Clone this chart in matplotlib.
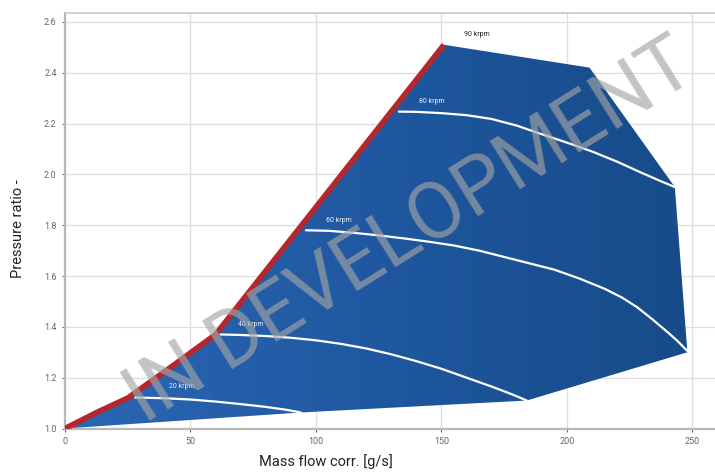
import matplotlib
matplotlib.use("Agg")
import matplotlib.pyplot as plt
import numpy as np
from matplotlib.patches import Polygon
from matplotlib.colors import LinearSegmentedColormap

# surge line (red), left edge of the map
surge_x = [0, 13, 25, 42, 60, 151]
surge_y = [1.0, 1.065, 1.12, 1.24, 1.37, 2.51]

# upper / right edge (90 krpm + choke side)
choke_x = [151, 209, 243, 248]
choke_y = [2.51, 2.42, 1.95, 1.30]

# lower edge, going back to the origin
low_x = [248, 184, 94, 0]
low_y = [1.30, 1.11, 1.063, 1.0]

# speed lines
n20_x = [28, 40, 50, 60, 70, 80, 88, 94]
n20_y = [1.122, 1.119, 1.114, 1.106, 1.096, 1.085, 1.074, 1.063]
n40_x = [62, 70, 80, 90, 100, 110, 120, 130, 140, 150, 160, 170, 178, 184]
n40_y = [1.37, 1.368, 1.364, 1.357, 1.347, 1.333, 1.315, 1.292, 1.265, 1.235, 1.2, 1.165, 1.135, 1.11]
n60_x = [96, 105, 115, 125, 135, 145, 155, 165, 175, 185, 195, 205, 215, 222, 228, 234, 240, 244, 248]
n60_y = [1.78, 1.778, 1.77, 1.76, 1.748, 1.735, 1.72, 1.70, 1.675, 1.65, 1.625, 1.59, 1.55, 1.515,
         1.477, 1.43, 1.38, 1.345, 1.305]
n80_x = [133, 140, 150, 160, 170, 180, 190, 200, 210, 220, 230, 237, 243]
n80_y = [2.247, 2.246, 2.241, 2.233, 2.218, 2.192, 2.158, 2.125, 2.09, 2.05, 2.005, 1.975, 1.95]

label_text = ["20 krpm", "40 krpm", "60 krpm", "80 krpm", "90 krpm"]
label_x = [46.5, 74, 109, 146, 164]
label_y = [1.166, 1.41, 1.82, 2.285, 2.55]

x_ticks = [0, 50, 100, 150, 200, 250]
y_ticks = [1.0, 1.2, 1.4, 1.6, 1.8, 2.0, 2.2, 2.4, 2.6]

plt.rcParams['font.family'] = ['Roboto', 'DejaVu Sans']

fig = plt.figure(figsize=(7.15, 4.75), dpi=100)
ax = fig.add_axes([65 / 715, 1 - 428.5 / 475, 1 - 65 / 715, (428.5 - 13) / 475])
ax.set_xlim(0, 259)
ax.set_ylim(1.0, 2.635)

ax.set_xticks(x_ticks)
ax.set_yticks(y_ticks)
ax.set_xticklabels([str(v) for v in x_ticks])
ax.set_yticklabels(["%.1f" % v for v in y_ticks])
ax.tick_params(labelsize=6.5, colors='#666666', length=2.5, width=0.8)
ax.grid(True, color='#dedede', lw=0.9)
ax.set_axisbelow(True)
for s in ['left', 'bottom']:
    ax.spines[s].set_color('#b8b8b8')
    ax.spines[s].set_linewidth(1.6)
ax.spines['top'].set_color('#c8c8c8')
ax.spines['top'].set_linewidth(1.2)
ax.spines['right'].set_visible(False)

# map outline built from the edges
verts = list(zip(surge_x, surge_y)) + list(zip(choke_x[1:], choke_y[1:])) + list(zip(low_x[1:], low_y[1:]))
poly = Polygon(verts, closed=True, facecolor='none', edgecolor='none')
ax.add_patch(poly)

cmap = LinearSegmentedColormap.from_list('map', ['#2c67b4', '#1f58a0', '#174b88'])
grad = np.tile(np.linspace(0, 1, 256), (64, 1))
img = ax.imshow(grad, cmap=cmap, extent=[0, 250, 1.0, 2.52], origin='lower',
                aspect='auto', zorder=2, interpolation='bilinear')
img.set_clip_path(poly)

for xs, ys in [(n20_x, n20_y), (n40_x, n40_y), (n60_x, n60_y), (n80_x, n80_y)]:
    ax.plot(xs, ys, color='white', lw=1.6, zorder=3, solid_capstyle='round', solid_joinstyle='round')

ax.plot(surge_x, surge_y, color='#b3282c', lw=4, zorder=4, solid_capstyle='butt')

for i, t in enumerate(label_text):
    c = '#222222' if i == len(label_text) - 1 else '#e8eef8'
    ax.text(label_x[i], label_y[i], t, fontsize=5, color=c, ha='center', va='center', zorder=5)

# watermark
fig.text(410 / 715, 1 - 232 / 475, "IN DEVELOPMENT", fontsize=57, color='#a4a4a4', alpha=0.65,
         rotation=32, ha='center', va='center', fontweight='normal', zorder=10,
         rotation_mode='anchor')

fig.text(18 / 715, 1 - 229 / 475, "Pressure ratio -", rotation=90, fontsize=10.5,
         color='#222222', ha='center', va='center')
fig.text(326 / 715, 1 - 462 / 475, "Mass flow corr. [g/s]", fontsize=10.5,
         color='#222222', ha='center', va='center')

fig.savefig("out.png", dpi=100)
